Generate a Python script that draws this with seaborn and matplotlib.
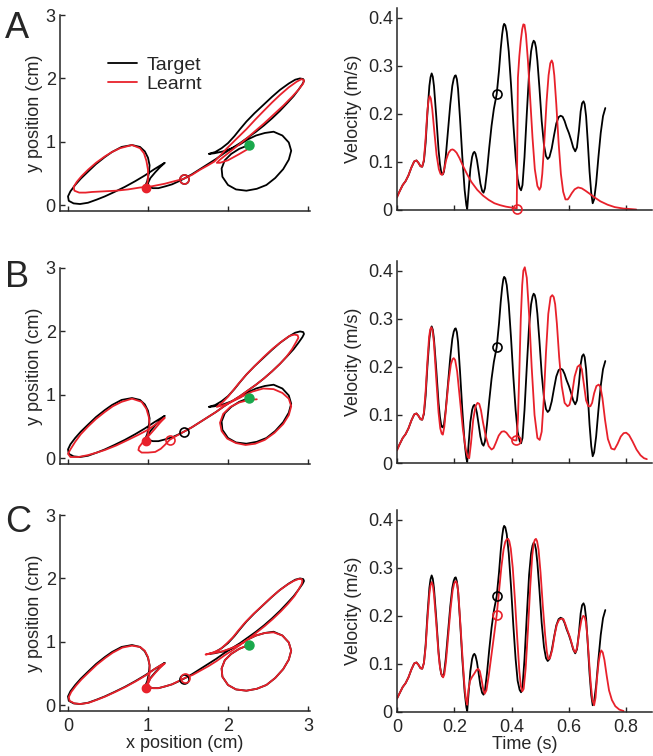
import numpy as np
import pandas as pd
import seaborn as sns
import matplotlib
matplotlib.use('Agg')
import matplotlib.pyplot as plt
from matplotlib.ticker import FuncFormatter

# ---------------- data ----------------
# target pen trajectory (cm), same in all rows
target_x = [0.96, 0.99, 1.01, 1.02, 1.00, 0.96, 0.90, 0.80, 0.67, 0.55, 0.46, 0.35, 0.25, 0.16, 0.09, 0.03,
            0.00, 0.01, 0.07, 0.15, 0.25, 0.36, 0.46, 0.58, 0.71, 0.84, 0.96, 1.08, 1.17, 1.21, 1.15, 1.09,
            1.03, 1.00, 1.01, 1.06, 1.13, 1.22, 1.30, 1.37, 1.45, 1.55, 1.65, 1.75, 1.85, 1.95, 2.05, 2.15,
            2.25, 2.35, 2.45, 2.55, 2.65, 2.74, 2.82, 2.88, 2.93, 2.95, 2.94, 2.90, 2.84, 2.76, 2.65, 2.55,
            2.44, 2.33, 2.23, 2.15, 2.08, 2.00, 1.92, 1.84, 1.76, 1.83, 1.94, 2.05, 2.15, 2.25, 2.35, 2.46,
            2.57, 2.68, 2.76, 2.79, 2.76, 2.69, 2.59, 2.48, 2.36, 2.23, 2.10, 2.00, 1.93, 1.92, 1.96, 2.04,
            2.14, 2.26]
target_y = [0.29, 0.38, 0.50, 0.63, 0.75, 0.85, 0.92, 0.95, 0.92, 0.84, 0.76, 0.65, 0.53, 0.42, 0.32, 0.22,
            0.14, 0.07, 0.03, 0.02, 0.04, 0.09, 0.14, 0.21, 0.29, 0.38, 0.47, 0.57, 0.64, 0.67, 0.60, 0.52,
            0.43, 0.35, 0.29, 0.27, 0.27, 0.30, 0.33, 0.37, 0.42, 0.49, 0.57, 0.65, 0.73, 0.82, 0.90, 0.98,
            1.07, 1.16, 1.26, 1.37, 1.49, 1.61, 1.72, 1.82, 1.91, 1.96, 1.99, 2.00, 1.98, 1.92, 1.82, 1.71,
            1.58, 1.45, 1.32, 1.20, 1.09, 0.98, 0.90, 0.84, 0.81, 0.82, 0.85, 0.90, 0.96, 1.04, 1.10, 1.14,
            1.16, 1.10, 0.99, 0.86, 0.72, 0.57, 0.43, 0.32, 0.26, 0.23, 0.25, 0.32, 0.45, 0.58, 0.71, 0.81,
            0.89, 0.95]

# learnt trajectory, row A
learnt_a_x = [0.98, 1.00, 1.00, 0.98, 0.95, 0.90, 0.80, 0.65, 0.55, 0.46, 0.35, 0.25, 0.17, 0.11, 0.07, 0.08,
              0.14, 0.22, 0.30, 0.45, 0.60, 0.75, 0.90, 1.05, 1.21, 1.33, 1.45, 1.55, 1.65, 1.75, 1.83, 1.90,
              1.98, 2.10, 2.23, 2.34, 2.44, 2.55, 2.65, 2.76, 2.86, 2.92, 2.95, 2.94, 2.88, 2.80, 2.69, 2.57,
              2.45, 2.33, 2.22, 2.12, 2.03, 1.96, 1.90, 1.86, 1.90, 2.00, 2.13, 2.28]
learnt_a_y = [0.29, 0.40, 0.56, 0.70, 0.82, 0.90, 0.95, 0.90, 0.84, 0.77, 0.67, 0.56, 0.46, 0.37, 0.29, 0.23,
              0.20, 0.20, 0.21, 0.22, 0.23, 0.25, 0.28, 0.30, 0.34, 0.38, 0.42, 0.48, 0.56, 0.63, 0.69, 0.78,
              0.89, 1.04, 1.20, 1.35, 1.48, 1.62, 1.74, 1.86, 1.95, 1.99, 1.97, 1.92, 1.82, 1.71, 1.57, 1.43,
              1.29, 1.16, 1.04, 0.94, 0.85, 0.78, 0.72, 0.67, 0.67, 0.71, 0.80, 0.91]

# learnt trajectory, row B
learnt_b_x = [0.97, 1.00, 1.02, 1.01, 0.98, 0.92, 0.80, 0.67, 0.56, 0.46, 0.35, 0.25, 0.16, 0.09, 0.03, 0.00,
              0.03, 0.13, 0.25, 0.36, 0.46, 0.60, 0.75, 0.88, 1.00, 1.10, 1.18, 1.21, 1.15, 1.09, 1.02, 0.94,
              0.89, 0.88, 0.92, 1.00, 1.09, 1.16, 1.21, 1.27, 1.35, 1.45, 1.55, 1.65, 1.75, 1.85, 1.95, 2.05,
              2.15, 2.25, 2.35, 2.45, 2.55, 2.65, 2.73, 2.80, 2.85, 2.88, 2.87, 2.83, 2.77, 2.68, 2.56, 2.44,
              2.33, 2.23, 2.14, 2.07, 2.00, 1.93, 1.86, 1.95, 2.06, 2.17, 2.30, 2.44, 2.57, 2.68, 2.76, 2.79,
              2.76, 2.69, 2.58, 2.46, 2.34, 2.22, 2.10, 1.99, 1.92, 1.90, 1.94, 2.03, 2.14, 2.26, 2.36]
learnt_b_y = [0.29, 0.38, 0.52, 0.65, 0.78, 0.89, 0.94, 0.89, 0.82, 0.73, 0.62, 0.50, 0.38, 0.26, 0.14, 0.07,
              0.02, 0.02, 0.05, 0.09, 0.13, 0.20, 0.29, 0.37, 0.45, 0.54, 0.61, 0.64, 0.56, 0.47, 0.37, 0.26,
              0.18, 0.13, 0.09, 0.09, 0.10, 0.15, 0.21, 0.29, 0.35, 0.42, 0.49, 0.57, 0.65, 0.73, 0.82, 0.90,
              0.98, 1.07, 1.16, 1.26, 1.37, 1.49, 1.60, 1.72, 1.83, 1.90, 1.94, 1.95, 1.93, 1.85, 1.73, 1.59,
              1.45, 1.32, 1.19, 1.08, 0.97, 0.88, 0.81, 0.84, 0.90, 0.97, 1.05, 1.10, 1.09, 1.03, 0.94, 0.82,
              0.68, 0.54, 0.40, 0.29, 0.23, 0.21, 0.24, 0.31, 0.43, 0.56, 0.70, 0.81, 0.88, 0.92, 0.93]

# learnt trajectory, row C
learnt_c_x = [0.97, 1.00, 1.02, 1.02, 1.00, 0.96, 0.90, 0.80, 0.68, 0.56, 0.47, 0.36, 0.26, 0.17, 0.10, 0.04,
              0.01, 0.02, 0.08, 0.16, 0.26, 0.37, 0.47, 0.59, 0.72, 0.85, 0.97, 1.08, 1.17, 1.21, 1.15, 1.09,
              1.03, 1.00, 1.01, 1.06, 1.13, 1.22, 1.30, 1.38, 1.46, 1.56, 1.66, 1.76, 1.86, 1.96, 2.06, 2.16,
              2.26, 2.36, 2.46, 2.56, 2.66, 2.75, 2.83, 2.88, 2.92, 2.93, 2.92, 2.88, 2.82, 2.74, 2.63, 2.53,
              2.42, 2.31, 2.21, 2.13, 2.06, 1.98, 1.90, 1.81, 1.72, 1.81, 1.93, 2.04, 2.15, 2.25, 2.35, 2.46,
              2.57, 2.68, 2.76, 2.79, 2.76, 2.69, 2.59, 2.48, 2.36, 2.23, 2.10, 2.00, 1.93, 1.92, 1.96, 2.04,
              2.14, 2.25]
learnt_c_y = [0.28, 0.38, 0.50, 0.63, 0.76, 0.86, 0.92, 0.94, 0.91, 0.83, 0.75, 0.64, 0.52, 0.41, 0.31, 0.21,
              0.13, 0.07, 0.03, 0.02, 0.04, 0.09, 0.14, 0.21, 0.29, 0.38, 0.47, 0.57, 0.64, 0.66, 0.59, 0.51,
              0.42, 0.34, 0.29, 0.27, 0.27, 0.30, 0.33, 0.38, 0.43, 0.48, 0.55, 0.62, 0.70, 0.79, 0.87, 0.96,
              1.05, 1.15, 1.25, 1.36, 1.48, 1.60, 1.72, 1.82, 1.91, 1.96, 1.99, 1.99, 1.96, 1.90, 1.80, 1.69,
              1.56, 1.43, 1.30, 1.18, 1.07, 0.97, 0.88, 0.83, 0.80, 0.82, 0.85, 0.90, 0.96, 1.04, 1.10, 1.14,
              1.15, 1.10, 0.99, 0.86, 0.72, 0.57, 0.43, 0.32, 0.26, 0.23, 0.25, 0.32, 0.45, 0.58, 0.71, 0.81,
              0.89, 0.95]

# target speed profile (s, m/s), same in all rows
target_t = [0.000, 0.010, 0.020, 0.030, 0.040, 0.050, 0.060, 0.068, 0.075, 0.082,
            0.088, 0.094, 0.100, 0.106, 0.113, 0.117, 0.121, 0.125, 0.129, 0.137,
            0.145, 0.150, 0.154, 0.157, 0.160, 0.164, 0.170, 0.178, 0.186, 0.193,
            0.198, 0.202, 0.205, 0.209, 0.213, 0.220, 0.228, 0.236, 0.242, 0.245,
            0.250, 0.256, 0.262, 0.266, 0.270, 0.274, 0.279, 0.285, 0.291, 0.297,
            0.302, 0.307, 0.314, 0.322, 0.330, 0.338, 0.348, 0.356, 0.362, 0.367,
            0.371, 0.374, 0.378, 0.383, 0.390, 0.398, 0.406, 0.414, 0.421, 0.428,
            0.433, 0.438, 0.445, 0.453, 0.461, 0.468, 0.473, 0.477, 0.481, 0.485,
            0.490, 0.497, 0.505, 0.513, 0.520, 0.526, 0.532, 0.540, 0.548, 0.556,
            0.564, 0.571, 0.578, 0.585, 0.592, 0.600, 0.608, 0.615, 0.622, 0.628,
            0.635, 0.641, 0.646, 0.651, 0.655, 0.660, 0.666, 0.672, 0.678, 0.683,
            0.688, 0.695, 0.703, 0.711, 0.719, 0.727]
target_v = [0.028, 0.040, 0.052, 0.060, 0.072, 0.088, 0.101, 0.103, 0.098, 0.091,
            0.090, 0.102, 0.140, 0.200, 0.258, 0.276, 0.284, 0.277, 0.258, 0.195,
            0.125, 0.095, 0.080, 0.075, 0.074, 0.080, 0.110, 0.165, 0.220, 0.258,
            0.273, 0.279, 0.280, 0.272, 0.252, 0.190, 0.110, 0.042, 0.010, 0.002,
            0.040, 0.085, 0.110, 0.118, 0.121, 0.117, 0.104, 0.080, 0.055, 0.040,
            0.036, 0.045, 0.080, 0.130, 0.175, 0.210, 0.241, 0.290, 0.335, 0.365,
            0.382, 0.387, 0.384, 0.370, 0.330, 0.260, 0.180, 0.110, 0.065, 0.046,
            0.041, 0.052, 0.110, 0.200, 0.285, 0.330, 0.346, 0.352, 0.349, 0.338,
            0.310, 0.255, 0.185, 0.135, 0.112, 0.106, 0.110, 0.128, 0.155, 0.180,
            0.193, 0.196, 0.194, 0.185, 0.172, 0.160, 0.145, 0.130, 0.122, 0.130,
            0.165, 0.205, 0.222, 0.226, 0.220, 0.195, 0.140, 0.080, 0.035, 0.014,
            0.022, 0.055, 0.110, 0.160, 0.195, 0.212]

learnt_a_t = [0.000, 0.010, 0.020, 0.030, 0.040, 0.050, 0.060, 0.068, 0.075, 0.082,
              0.088, 0.094, 0.100, 0.106, 0.110, 0.114, 0.118, 0.123, 0.130, 0.138,
              0.146, 0.152, 0.157, 0.161, 0.166, 0.172, 0.180, 0.188, 0.194, 0.200,
              0.208, 0.218, 0.230, 0.245, 0.260, 0.280, 0.300, 0.320, 0.340, 0.360,
              0.380, 0.400, 0.412, 0.418, 0.420, 0.422, 0.427, 0.432, 0.437, 0.441,
              0.445, 0.450, 0.457, 0.465, 0.473, 0.481, 0.490, 0.497, 0.502, 0.507,
              0.514, 0.522, 0.529, 0.535, 0.540, 0.544, 0.549, 0.556, 0.564, 0.572,
              0.580, 0.588, 0.596, 0.602, 0.610, 0.620, 0.632, 0.645, 0.658, 0.672,
              0.690, 0.710, 0.735, 0.760, 0.790, 0.815, 0.835]
learnt_a_v = [0.026, 0.040, 0.052, 0.060, 0.072, 0.088, 0.101, 0.103, 0.098, 0.091,
              0.090, 0.105, 0.150, 0.205, 0.228, 0.237, 0.232, 0.210, 0.165, 0.115,
              0.085, 0.075, 0.073, 0.076, 0.088, 0.105, 0.119, 0.125, 0.126, 0.124,
              0.119, 0.108, 0.092, 0.074, 0.058, 0.042, 0.030, 0.021, 0.014, 0.010,
              0.007, 0.005, 0.004, 0.003, 0.150, 0.275, 0.320, 0.352, 0.376, 0.386,
              0.385, 0.365, 0.310, 0.230, 0.150, 0.085, 0.050, 0.042, 0.048, 0.075,
              0.140, 0.225, 0.280, 0.305, 0.311, 0.305, 0.280, 0.220, 0.140, 0.075,
              0.038, 0.022, 0.022, 0.027, 0.035, 0.043, 0.047, 0.045, 0.040, 0.034,
              0.026, 0.018, 0.011, 0.006, 0.003, 0.002, 0.001]

learnt_b_t = [0.000, 0.010, 0.020, 0.030, 0.040, 0.050, 0.060, 0.068, 0.075, 0.082,
              0.088, 0.094, 0.100, 0.106, 0.112, 0.116, 0.120, 0.124, 0.129, 0.137,
              0.145, 0.151, 0.156, 0.160, 0.165, 0.172, 0.180, 0.188, 0.194, 0.198,
              0.203, 0.210, 0.220, 0.230, 0.240, 0.247, 0.252, 0.258, 0.266, 0.274,
              0.281, 0.287, 0.293, 0.300, 0.310, 0.320, 0.330, 0.337, 0.345, 0.355,
              0.365, 0.374, 0.382, 0.392, 0.402, 0.411, 0.417, 0.422, 0.427, 0.432,
              0.437, 0.441, 0.446, 0.453, 0.461, 0.470, 0.480, 0.490, 0.498, 0.505,
              0.512, 0.520, 0.528, 0.536, 0.542, 0.547, 0.552, 0.558, 0.566, 0.575,
              0.585, 0.595, 0.602, 0.610, 0.620, 0.630, 0.638, 0.645, 0.652, 0.660,
              0.668, 0.675, 0.681, 0.688, 0.696, 0.704, 0.710, 0.717, 0.726, 0.736,
              0.748, 0.759, 0.770, 0.781, 0.791, 0.800, 0.810, 0.822, 0.836, 0.850,
              0.862, 0.872]
learnt_b_v = [0.026, 0.040, 0.052, 0.060, 0.072, 0.088, 0.101, 0.103, 0.098, 0.091,
              0.090, 0.105, 0.150, 0.210, 0.262, 0.278, 0.282, 0.276, 0.250, 0.175,
              0.105, 0.072, 0.061, 0.059, 0.075, 0.120, 0.170, 0.205, 0.216, 0.218,
              0.214, 0.190, 0.130, 0.070, 0.028, 0.012, 0.010, 0.040, 0.090, 0.118,
              0.125, 0.123, 0.110, 0.085, 0.055, 0.035, 0.028, 0.031, 0.042, 0.057,
              0.065, 0.066, 0.063, 0.055, 0.049, 0.047, 0.047, 0.090, 0.190, 0.300,
              0.370, 0.400, 0.407, 0.385, 0.310, 0.200, 0.100, 0.052, 0.048, 0.065,
              0.130, 0.230, 0.310, 0.345, 0.349, 0.345, 0.330, 0.290, 0.220, 0.160,
              0.125, 0.118, 0.121, 0.140, 0.180, 0.200, 0.204, 0.195, 0.165, 0.130,
              0.118, 0.118, 0.125, 0.145, 0.160, 0.163, 0.158, 0.135, 0.090, 0.050,
              0.030, 0.028, 0.040, 0.055, 0.062, 0.063, 0.058, 0.045, 0.028, 0.016,
              0.010, 0.008]

learnt_c_t = [0.000, 0.010, 0.020, 0.030, 0.040, 0.050, 0.060, 0.068, 0.075, 0.082,
              0.088, 0.094, 0.100, 0.106, 0.113, 0.117, 0.121, 0.125, 0.129, 0.137,
              0.145, 0.150, 0.155, 0.158, 0.161, 0.165, 0.171, 0.179, 0.187, 0.194,
              0.199, 0.203, 0.206, 0.210, 0.214, 0.221, 0.229, 0.236, 0.241, 0.245,
              0.249, 0.255, 0.262, 0.270, 0.277, 0.283, 0.289, 0.295, 0.301, 0.306,
              0.312, 0.320, 0.330, 0.340, 0.348, 0.356, 0.364, 0.372, 0.378, 0.383,
              0.388, 0.392, 0.397, 0.404, 0.412, 0.420, 0.427, 0.432, 0.437, 0.442,
              0.449, 0.457, 0.465, 0.472, 0.477, 0.481, 0.485, 0.489, 0.494, 0.501,
              0.509, 0.517, 0.523, 0.528, 0.534, 0.542, 0.550, 0.558, 0.566, 0.574,
              0.581, 0.588, 0.596, 0.604, 0.612, 0.618, 0.623, 0.629, 0.636, 0.644,
              0.650, 0.655, 0.659, 0.664, 0.670, 0.676, 0.682, 0.688, 0.693, 0.698,
              0.704, 0.709, 0.713, 0.718, 0.724, 0.732, 0.740, 0.750, 0.762, 0.776,
              0.791]
learnt_c_v = [0.028, 0.040, 0.052, 0.060, 0.072, 0.088, 0.101, 0.103, 0.098, 0.091,
              0.090, 0.102, 0.135, 0.190, 0.245, 0.263, 0.270, 0.264, 0.245, 0.185,
              0.120, 0.093, 0.079, 0.074, 0.072, 0.078, 0.105, 0.160, 0.215, 0.252,
              0.266, 0.271, 0.272, 0.266, 0.248, 0.185, 0.110, 0.050, 0.025, 0.015,
              0.045, 0.065, 0.073, 0.080, 0.087, 0.090, 0.085, 0.068, 0.047, 0.038,
              0.045, 0.075, 0.120, 0.165, 0.202, 0.250, 0.300, 0.338, 0.354, 0.359,
              0.360, 0.355, 0.340, 0.300, 0.230, 0.150, 0.085, 0.055, 0.043, 0.048,
              0.090, 0.170, 0.260, 0.325, 0.350, 0.358, 0.360, 0.355, 0.338, 0.290,
              0.220, 0.160, 0.125, 0.110, 0.112, 0.130, 0.160, 0.182, 0.192, 0.194,
              0.193, 0.182, 0.168, 0.155, 0.138, 0.127, 0.124, 0.135, 0.165, 0.192,
              0.200, 0.198, 0.188, 0.160, 0.110, 0.060, 0.025, 0.014, 0.030, 0.070,
              0.105, 0.122, 0.128, 0.124, 0.108, 0.075, 0.045, 0.025, 0.012, 0.005,
              0.002]

# markers
start_dot = (0.97, 0.28)
green_dot = (2.26, 0.95)
target_mark_xy = (1.45, 0.42)
target_mark_tv = (0.348, 0.241)
learnt_mark_xy = {'A': (1.45, 0.42), 'B': (1.27, 0.29), 'C': (1.46, 0.43)}
learnt_mark_tv = {'A': (0.418, 0.003), 'B': (0.417, 0.047), 'C': (0.348, 0.202)}

rows = {
    'A': (learnt_a_x, learnt_a_y, learnt_a_t, learnt_a_v),
    'B': (learnt_b_x, learnt_b_y, learnt_b_t, learnt_b_v),
    'C': (learnt_c_x, learnt_c_y, learnt_c_t, learnt_c_v),
}

# ---------------- plotting ----------------
sns.set_style('ticks')
plt.rcParams['font.family'] = ['Liberation Sans', 'DejaVu Sans']
plt.rcParams['axes.linewidth'] = 1.1
plt.rcParams['xtick.direction'] = 'in'
plt.rcParams['ytick.direction'] = 'in'

RED = '#e8212b'
GREEN = '#1aa84c'
LW = 1.3
FS = 13

W, H = 653, 756
fig = plt.figure(figsize=(W / 100, H / 100), dpi=100)


def px_axes(left, top, right, bottom):
    return fig.add_axes([left / W, 1 - bottom / H, (right - left) / W, (bottom - top) / H])


def zero_fmt(v, pos):
    return '0' if abs(v) < 1e-9 else f'{v:g}'


left_boxes = {'A': (60, 15, 310, 211), 'B': (60, 268, 310, 464), 'C': (60, 515, 310, 711)}
right_boxes = {'A': (397, 8, 652, 210), 'B': (397, 261, 652, 463), 'C': (397, 510, 652, 712)}
letter_base = {'A': 38, 'B': 287, 'C': 532}

for key, (lx, ly, lt, lv) in rows.items():
    # trajectory panel
    ax = px_axes(*left_boxes[key])
    sns.lineplot(x=target_x, y=target_y, sort=False, estimator=None, color='black', lw=LW, ax=ax,
                 label='Target')
    sns.lineplot(x=lx, y=ly, sort=False, estimator=None, color=RED, lw=LW, ax=ax, label='Learnt')
    ax.plot(*target_mark_xy, 'o', mfc='none', mec='black', ms=6.5, mew=1.2, zorder=5)
    ax.plot(*learnt_mark_xy[key], 'o', mfc='none', mec=RED, ms=6.5, mew=1.2, zorder=6)
    ax.plot(*start_dot, 'o', color=RED, ms=6, zorder=7)
    ax.plot(*green_dot, 'o', color=GREEN, ms=6.5, zorder=7)
    ax.set_xlim(-0.1, 3.025)
    ax.set_ylim(-0.09, 3.0)
    ax.set_xticks([0, 1, 2, 3])
    ax.set_yticks([0, 1, 2, 3])
    ax.set_ylabel('y position (cm)', fontsize=FS, labelpad=2)
    if key == 'A':
        ax.legend(loc='upper left', bbox_to_anchor=(0.155, 0.84), frameon=False, fontsize=14,
                  handlelength=1.45, handletextpad=0.5, labelspacing=0.1, borderpad=0)
    else:
        ax.get_legend().remove()
    if key == 'C':
        ax.set_xlabel('x position (cm)', fontsize=FS, labelpad=0)
    else:
        ax.set_xticklabels([])
    ax.tick_params(labelsize=FS, length=3.5, width=1.0)
    ax.tick_params(axis='x', pad=5)
    ax.tick_params(axis='y', pad=3)
    sns.despine(ax=ax)

    # speed panel
    bx = px_axes(*right_boxes[key])
    sns.lineplot(x=target_t, y=target_v, sort=False, estimator=None, color='black', lw=LW, ax=bx)
    sns.lineplot(x=lt, y=lv, sort=False, estimator=None, color=RED, lw=LW, ax=bx)
    bx.plot(*target_mark_tv, 'o', mfc='none', mec='black', ms=6.5, mew=1.2, zorder=5)
    bx.plot(*learnt_mark_tv[key], 'o', mfc='none', mec=RED, ms=6.5, mew=1.2, zorder=6, clip_on=False)
    bx.set_xlim(0, 0.89)
    bx.set_ylim(0, 0.42)
    bx.set_xticks([0, 0.2, 0.4, 0.6, 0.8])
    bx.set_yticks([0, 0.1, 0.2, 0.3, 0.4])
    bx.yaxis.set_major_formatter(FuncFormatter(zero_fmt))
    bx.xaxis.set_major_formatter(FuncFormatter(zero_fmt))
    bx.set_ylabel('Velocity (m/s)', fontsize=FS, labelpad=4)
    if key == 'C':
        bx.set_xlabel('Time (s)', fontsize=FS, labelpad=0)
    else:
        bx.set_xticklabels([])
    bx.tick_params(labelsize=FS, length=3.5, width=1.0)
    bx.tick_params(axis='x', pad=5)
    bx.tick_params(axis='y', pad=3)
    sns.despine(ax=bx)

    fig.text(5 / W, 1 - letter_base[key] / H, key, fontsize=26, va='baseline', ha='left')

fig.savefig('out.png', dpi=100)
